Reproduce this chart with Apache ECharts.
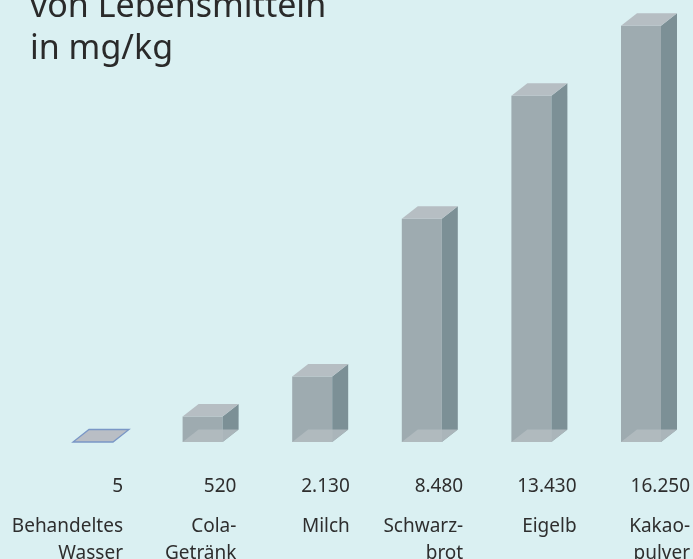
<!DOCTYPE html>
<html><head><meta charset="utf-8">
<script src="https://cdn.jsdelivr.net/npm/echarts@6/dist/echarts.min.js"></script>
<style>html,body{margin:0;padding:0;background:#daf0f2;} #c{width:693px;height:559px;}</style>
</head><body><div id="c"></div>
<script>
const categories = ['Behandeltes\nWasser', 'Cola-\nGetränk', 'Milch', 'Schwarz-\nbrot', 'Eigelb', 'Kakao-\npulver'];
const values = [5, 520, 2130, 8480, 13430, 16250];
const titleLines = ['von Lebensmitteln', 'in mg/kg'];

function fmt(n) { return String(n).replace(/\B(?=(\d{3})+(?!\d))/g, '.'); }

const FONT = '"Noto Sans", sans-serif';
const DX = 16, DY = 12.5;
const C = { front: '#9eabb0', side: '#7c9096', top: '#b6bec3', bottom: '#b3bcc1', plate: '#b9bec5', plateLine: '#7a97c6' };

function renderItem(params, api) {
  const i = api.value(0), v = api.value(1);
  const pt = api.coord([i, v]);
  const pb = api.coord([i, 0]);
  const bw = api.size([1, 0])[0];
  const w = bw * 0.365;
  const x = pt[0] - w / 2;
  const yv = pt[1], y0 = pb[1], yb = y0 + DY;
  const bottomPts = [[x, yb], [x + w, yb], [x + w + DX, y0], [x + DX, y0]];
  if (y0 - yv < 2) {
    return { type: 'polygon', shape: { points: bottomPts },
      style: { fill: C.plate, stroke: C.plateLine, lineWidth: 1.3 } };
  }
  return { type: 'group', children: [
    { type: 'rect', shape: { x: x, y: yv, width: w, height: yb - yv }, style: { fill: C.front } },
    { type: 'polygon', shape: { points: [[x + w, yv], [x + w + DX, yv - DY], [x + w + DX, y0], [x + w, yb]] }, style: { fill: C.side } },
    { type: 'polygon', shape: { points: [[x, yv], [x + w, yv], [x + w + DX, yv - DY], [x + DX, yv - DY]] }, style: { fill: C.top } },
    { type: 'polygon', shape: { points: bottomPts }, style: { fill: C.bottom, opacity: 0.85 } }
  ] };
}

const chart = echarts.init(document.getElementById('c'));
chart.setOption({
  backgroundColor: '#daf0f2',
  animation: false,
  title: { text: titleLines.join('\n'), left: 25, top: -19,
    textStyle: { fontFamily: FONT, fontSize: 34, fontWeight: 'normal', color: '#2a2a2a', lineHeight: 42 } },
  grid: [
    { left: 38.2, width: 657.6, top: 25.7, bottom: 129.5, outerBoundsMode: 'none', containLabel: false },
    { left: 66.3, width: 680.4, top: 25.7, bottom: 129.5, outerBoundsMode: 'none', containLabel: false }
  ],
  xAxis: [
    { type: 'category', gridIndex: 0, data: categories, show: false },
    { type: 'category', gridIndex: 1, data: categories,
      axisLine: { show: false }, axisTick: { show: false }, splitLine: { show: false },
      axisLabel: {
        interval: 0, align: 'right', margin: 31, hideOverlap: false,
        formatter: function (val, idx) {
          return '{v|' + fmt(values[idx]) + '}\n' + val.split('\n').map(s => '{c|' + s + '}').join('\n');
        },
        rich: {
          v: { fontFamily: FONT, fontSize: 19, lineHeight: 53, align: 'right', color: '#2e2e2e' },
          c: { fontFamily: FONT, fontSize: 19, lineHeight: 27, align: 'right', color: '#2e2e2e' }
        }
      } }
  ],
  yAxis: [
    { type: 'value', gridIndex: 0, min: 0, max: 'dataMax', show: false },
    { type: 'value', gridIndex: 1, min: 0, max: 1, show: false }
  ],
  series: [{
    type: 'custom', xAxisIndex: 0, yAxisIndex: 0, encode: { x: 0, y: 1 },
    data: values.map((v, i) => [i, v]), renderItem: renderItem
  }]
});
</script>
</body></html>
